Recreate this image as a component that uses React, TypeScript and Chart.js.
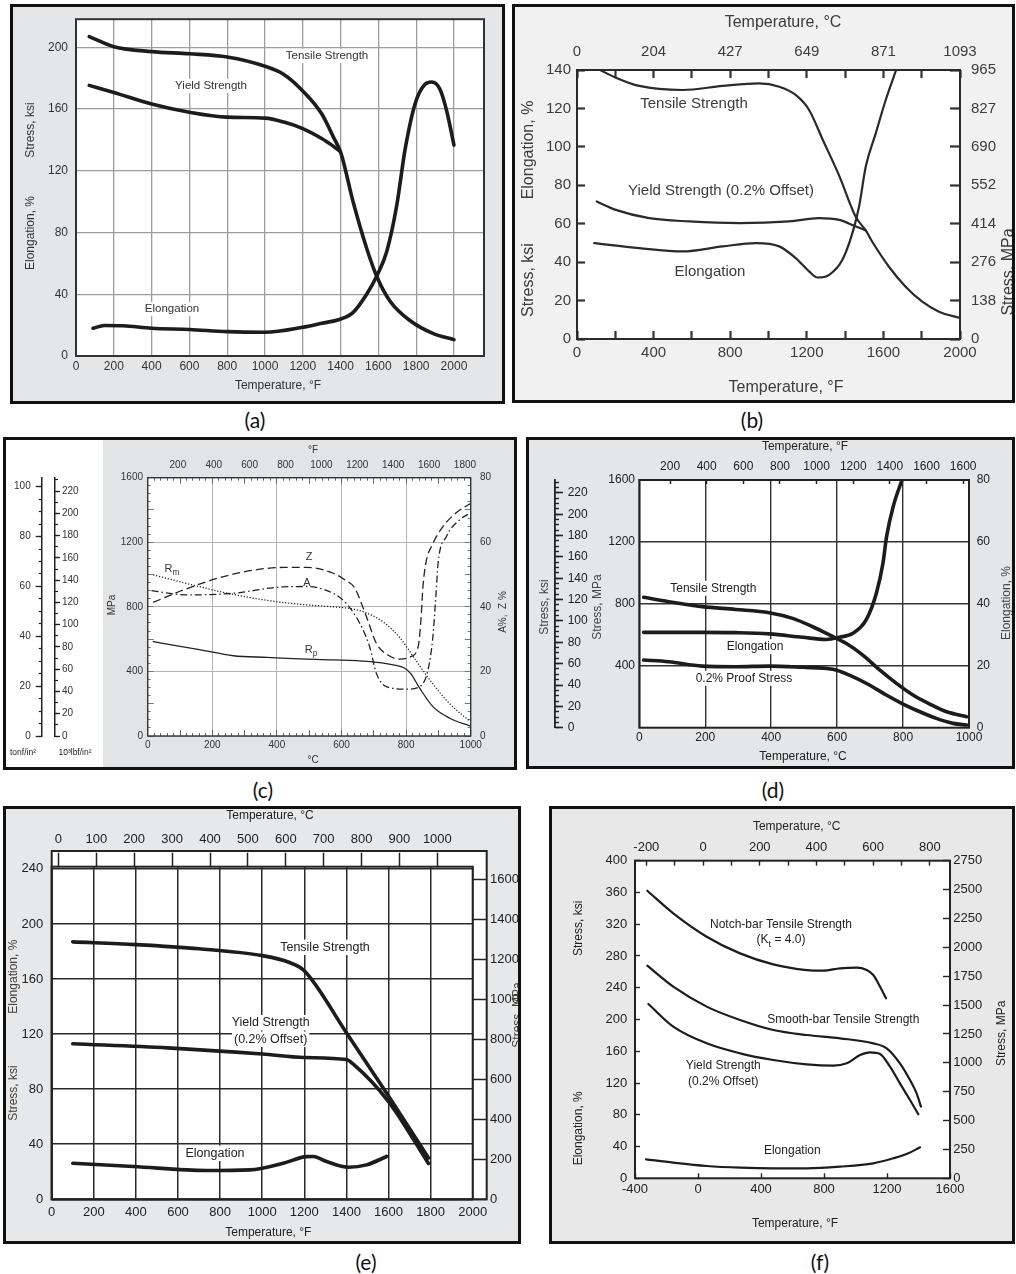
import React, { useEffect, useRef } from 'react';
import { Chart, registerables } from 'chart.js';

Chart.register(...registerables);

const FONT = '"Liberation Sans", Arial, Helvetica, sans-serif';

// ---------------- (a) ----------------
const aTempTicks = [0, 200, 400, 600, 800, 1000, 1200, 1400, 1600, 1800, 2000];
const aStressTicks = [0, 40, 80, 120, 160, 200];
const aTensileF = [70, 200, 400, 600, 800, 1000, 1100, 1200, 1300, 1361, 1402, 1467, 1538, 1591, 1661, 1767, 1891, 2000];
const aTensileKsi = [207, 200.5, 197.3, 195.9, 193.8, 187.8, 182.5, 171.8, 157, 142.2, 131.5, 99.6, 69.8, 51.7, 35.7, 23, 14.5, 10.6];
const aYieldF = [70, 200, 400, 600, 800, 1000, 1100, 1200, 1300, 1350, 1395];
const aYieldKsi = [175.4, 170.8, 163.3, 158, 154.8, 154.2, 151.6, 147.4, 141, 137, 133];
const aElongF = [90, 150, 250, 400, 600, 800, 1000, 1200, 1300, 1402, 1467, 1538, 1591, 1644, 1697, 1741, 1794, 1847, 1882, 1926, 1961, 2000];
const aElongPct = [18, 19.8, 19.6, 18, 17.2, 15.8, 15.4, 18.6, 21.2, 24, 28.3, 40, 51.7, 67.6, 97.4, 133.6, 163.4, 176.1, 177.6, 172.9, 159.1, 136.7];

// ---------------- (b) ----------------
const bTempTicks = [0, 200, 400, 600, 800, 1000, 1200, 1400, 1600, 1800, 2000];
const bTempLabels = ['0', '', '400', '', '800', '', '1200', '', '1600', '', '2000'];
const bCelsiusLabels = ['0', '', '204', '', '427', '', '649', '', '871', '', '1093'];
const bKsiTicks = [0, 20, 40, 60, 80, 100, 120, 140];
const bMpaTicks = [0, 138, 276, 414, 552, 690, 827, 965];
const bTensileF = [100, 203, 325, 551, 760, 951, 1056, 1142, 1212, 1282, 1369, 1456, 1508, 1542, 1629, 1716, 1803, 1890, 2000];
const bTensileKsi = [141, 136, 131.7, 129.6, 131.7, 133, 131.3, 127, 119.2, 104, 85, 63.5, 56.5, 50.6, 37.6, 27.2, 19.4, 14.2, 10.9];
const bYieldF = [103, 203, 377, 586, 847, 1108, 1264, 1369, 1456, 1508];
const bYieldKsi = [71.6, 67.2, 62.9, 61.2, 60.3, 61.2, 62.9, 62, 58.6, 56.5];
const bElongF = [90, 325, 551, 760, 934, 1056, 1142, 1212, 1256, 1317, 1386, 1438, 1473, 1508, 1560, 1612, 1670];
const bElongPct = [49.9, 47.3, 45.6, 48.2, 49.9, 48.2, 42.1, 35.2, 32, 33.4, 41.2, 55.1, 69, 89.8, 107, 124.4, 141];

// ---------------- (c) ----------------
const cCelsiusTicks = [0, 200, 400, 600, 800, 1000];
const cFahrTicks = [200, 400, 600, 800, 1000, 1200, 1400, 1600, 1800];
const cMpaTicks = [0, 400, 800, 1200, 1600];
const cPctTicks = [0, 20, 40, 60, 80];
const cTonfTicks = [0, 20, 40, 60, 80, 100];
const cKsiTicks = [0, 20, 40, 60, 80, 100, 120, 140, 160, 180, 200, 220];
const cRmC = [17, 150, 245, 370, 475, 575, 640, 680, 730, 780, 830, 880, 935, 998];
const cRmMpa = [998, 930, 885, 840, 815, 800, 785, 760, 705, 610, 470, 330, 200, 90];
const cRpC = [17, 160, 265, 370, 470, 575, 680, 760, 796, 815, 842, 883, 935, 998];
const cRpMpa = [584, 535, 497, 487, 478, 472, 462, 440, 420, 385, 296, 182, 110, 62];
const cZC = [17, 110, 214, 317, 420, 492, 575, 616, 640, 677, 708, 745, 780, 815, 838, 846, 852, 862, 880, 915, 960, 1000];
const cZPct = [41.4, 45.2, 48.8, 51.2, 52.2, 52.2, 50.4, 48, 46, 37, 28.7, 25, 23.8, 24.6, 28, 36, 46, 54, 59, 65, 69.5, 72];
const cAC = [12, 121, 265, 420, 492, 574, 615, 656, 687, 708, 739, 801, 842, 868, 883, 892, 899, 925, 966, 998];
const cAPct = [45, 43.7, 44.2, 46.2, 46.3, 44.2, 41, 35, 27.7, 19.4, 15.3, 14.5, 15.3, 20.5, 30.8, 43, 53.5, 61.8, 67, 69];

// ---------------- (d) ----------------
const dCelsiusTicks = [0, 200, 400, 600, 800, 1000];
const dFahrTicks = [200, 400, 600, 800, 1000, 1200, 1400, 1600, 1800];
const dFahrLabels = ['200', '400', '600', '800', '1000', '1200', '1400', '1600', '1600'];
const dMpaTicks = [400, 800, 1200, 1600];
const dPctTicks = [0, 20, 40, 60, 80];
const dKsiTicks = [0, 20, 40, 60, 80, 100, 120, 140, 160, 180, 200, 220];
const dTensileC = [13, 89, 191, 292, 394, 465, 526, 577, 627, 678, 729, 780, 830, 881, 932, 993];
const dTensileMpa = [842, 814, 782, 764, 743, 706, 652, 599, 545, 469, 373, 286, 211, 153, 103, 71];
const dProofC = [13, 89, 191, 292, 394, 495, 587, 637, 698, 749, 800, 851, 901, 952, 993];
const dProofMpa = [437, 426, 398, 394, 398, 390, 377, 340, 276, 211, 153, 103, 60, 28, 17];
const dElongC = [13, 89, 191, 292, 394, 495, 566, 607, 648, 688, 719, 739, 750, 770, 800];
const dElongPct = [30.8, 30.8, 30.8, 30.7, 30.3, 29.2, 28.5, 29.2, 30.5, 34.8, 43.4, 53.1, 61.7, 71.4, 81];

// ---------------- (e) ----------------
const eTempTicks = [0, 200, 400, 600, 800, 1000, 1200, 1400, 1600, 1800, 2000];
const eCelsiusTicks = [0, 100, 200, 300, 400, 500, 600, 700, 800, 900, 1000];
const eKsiTicks = [0, 40, 80, 120, 160, 200, 240];
const eMpaTicks = [0, 200, 400, 600, 800, 1000, 1200, 1400, 1600];
const eTensileF = [100, 400, 700, 1000, 1130, 1200, 1400, 1600, 1790];
const eTensileKsi = [187, 185, 182, 177, 172, 166, 121, 75, 30];
const eYieldF = [100, 550, 1000, 1200, 1400, 1430, 1600, 1790];
const eYieldKsi = [113, 110, 105.5, 103, 101.5, 98.5, 71, 26];
const eElongF = [100, 388, 736, 942, 1100, 1211, 1243, 1306, 1409, 1496, 1591];
const eElongPct = [26.2, 23.8, 20.9, 21.4, 26.2, 31, 31.1, 27.4, 23.3, 25, 31.1];

// ---------------- (f) ----------------
const fTempTicks = [-400, 0, 400, 800, 1200, 1600];
const fCelsiusTicks = [-200, -100, 0, 100, 200, 300, 400, 500, 600, 700, 800];
const fCelsiusLabels = ['-200', '', '0', '', '200', '', '400', '', '600', '', '800'];
const fKsiTicks = [0, 40, 80, 120, 160, 200, 240, 280, 320, 360, 400];
const fMpaTicks = [0, 250, 500, 750, 1000, 1250, 1500, 1750, 2000, 2250, 2500, 2750];
const fNotchF = [-322, -157, 55, 267, 478, 690, 796, 902, 1007, 1071, 1113, 1156, 1194];
const fNotchKsi = [362.2, 333.7, 304.3, 283.3, 269.5, 262.3, 261.5, 264.4, 265.3, 262.3, 256, 241.3, 226.7];
const fSmoothF = [-322, -157, 55, 267, 478, 690, 902, 1113, 1198, 1282, 1346, 1388, 1416];
const fSmoothKsi = [267.8, 241.3, 216.2, 199.4, 186.8, 180.5, 176.3, 170, 163.7, 144.8, 123.8, 107, 90.2];
const fYieldF = [-315, -157, 55, 267, 478, 690, 859, 944, 1029, 1092, 1156, 1219, 1282, 1346, 1399];
const fYieldKsi = [219.5, 191, 170, 157.4, 149, 143.5, 141.9, 144.8, 155.3, 158.7, 156.6, 140.6, 119.6, 98.6, 80.6];
const fElongF = [-330, -157, 55, 267, 478, 690, 902, 1113, 1240, 1325, 1410];
const fElongPct = [23.9, 19.7, 15.5, 13.4, 12.6, 12.6, 14.7, 18.9, 25.2, 30.6, 39];

// ---------------- helpers ----------------
const str = (a: number[]) => a.map(String);
function range(a: number, b: number, s: number) {
  const r: number[] = [];
  for (let v = a; v <= b + 1e-9; v += s) r.push(Math.round(v * 1000) / 1000);
  return r;
}

type AxO = {
  pos: string; min: number; max: number; ticks: number[]; labels?: string[];
  tl?: number; tc?: string; tw?: number; grid?: boolean; gc?: string; gw?: number;
  border?: boolean; bc?: string; bw?: number; size?: number; color?: string; pad?: number;
};
function ax(o: AxO) {
  const horiz = o.pos === 'top' || o.pos === 'bottom';
  return {
    _lab: !!o.labels,
    type: 'linear', position: o.pos, axis: horiz ? 'x' : 'y', min: o.min, max: o.max,
    bounds: 'data', grace: 0, offset: false, weight: o.labels ? 1 : 0,
    afterBuildTicks: (s: any) => { s.ticks = o.ticks.map((v) => ({ value: v })); },
    afterFit: (s: any) => { if (horiz) s.height = 0; else s.width = 0; },
    ticks: {
      display: true, autoSkip: false, maxRotation: 0, minRotation: 0, padding: o.pad ?? 3,
      color: o.color ?? '#222', font: { family: FONT, size: o.size ?? 12 },
      callback: (_v: any, i: number) => (o.labels ? o.labels[i] ?? '' : ''),
    },
    grid: {
      display: true, drawOnChartArea: !!o.grid, drawTicks: !!o.tl, tickLength: o.tl ?? 0,
      tickColor: o.tc ?? '#222', tickWidth: o.tw ?? 1, color: o.gc ?? '#999', lineWidth: o.gw ?? 1,
    },
    border: { display: !!o.border, color: o.bc ?? '#222', width: o.bw ?? 1 },
  };
}
const hiddenX = { type: 'linear', display: false, min: 0, max: 1 };

type Txt = { x: number; y: number; t: string; s: number; r?: number; bg?: string; c?: string };
type Ser = { xs: number[]; ys: number[]; xa?: string; ya?: string; w: number; c: string; dash?: number[]; cap?: string };
type Spec = {
  box: number[]; plot: number[]; scales: Record<string, any>; series: Ser[]; texts: Txt[];
  frame?: { c: string; w: number }; outer?: number[]; plotBg?: string; tc?: string;
};

function parts(t: string) {
  const out: { t: string; sub: boolean; w?: number }[] = [];
  const re = /_\{([^}]*)\}/g;
  let last = 0;
  let m: RegExpExecArray | null;
  while ((m = re.exec(t))) {
    if (m.index > last) out.push({ t: t.slice(last, m.index), sub: false });
    out.push({ t: m[1], sub: true });
    last = re.lastIndex;
  }
  if (last < t.length) out.push({ t: t.slice(last), sub: false });
  return out;
}

function drawTxt(ctx: CanvasRenderingContext2D, it: Txt, ox: number, oy: number, col: string) {
  ctx.save();
  ctx.translate(it.x - ox, it.y - oy);
  if (it.r) ctx.rotate((it.r * Math.PI) / 180);
  const ps = parts(it.t);
  let w = 0;
  for (const p of ps) {
    ctx.font = `${p.sub ? it.s * 0.75 : it.s}px ${FONT}`;
    p.w = ctx.measureText(p.t).width;
    w += p.w;
  }
  if (it.bg) {
    ctx.fillStyle = it.bg;
    ctx.fillRect(-w / 2 - 2, -it.s * 0.62, w + 4, it.s * 1.24);
  }
  ctx.fillStyle = it.c ?? col;
  ctx.textBaseline = 'middle';
  ctx.textAlign = 'left';
  let x = -w / 2;
  for (const p of ps) {
    ctx.font = `${p.sub ? it.s * 0.75 : it.s}px ${FONT}`;
    ctx.fillText(p.t, x, p.sub ? it.s * 0.35 : 0);
    x += p.w as number;
  }
  ctx.restore();
}

function makeConfig(sp: Spec): any {
  const [x0, y0, x1, y1] = sp.box;
  const [l, t, r, b] = sp.plot;
  const sides: Record<string, number> = { left: l - x0, top: t - y0, right: x1 - r, bottom: y1 - b };
  const pad: Record<string, number> = { ...sides };
  const scales: Record<string, any> = {};
  for (const k of Object.keys(sp.scales)) {
    const s = sp.scales[k];
    if (s && s._lab) {
      const pos = s.position as string;
      const d = sides[pos];
      pad[pos] = 0;
      const { _lab, ...rest } = s;
      scales[k] = {
        ...rest,
        afterFit: (sc: any) => { if (pos === 'top' || pos === 'bottom') sc.height = d; else sc.width = d; },
      };
    } else if (s && '_lab' in s) {
      const { _lab, ...rest } = s;
      scales[k] = rest;
    } else scales[k] = s;
  }
  const deco = {
    id: 'deco',
    beforeDraw(chart: any) {
      if (!sp.plotBg) return;
      const ca = chart.chartArea;
      const o = sp.outer || [0, 0, 0, 0];
      const ctx = chart.ctx;
      ctx.save();
      ctx.fillStyle = sp.plotBg;
      ctx.fillRect(ca.left - o[0], ca.top - o[1], ca.right - ca.left + o[0] + o[2], ca.bottom - ca.top + o[1] + o[3]);
      ctx.restore();
    },
    beforeDatasetsDraw(chart: any) {
      for (const it of sp.texts) drawTxt(chart.ctx, it, x0, y0, sp.tc ?? '#222');
    },
    afterDatasetsDraw(chart: any) {
      const ca = chart.chartArea;
      const ctx = chart.ctx;
      if (sp.frame) {
        ctx.save();
        ctx.strokeStyle = sp.frame.c;
        ctx.lineWidth = sp.frame.w;
        ctx.strokeRect(ca.left, ca.top, ca.right - ca.left, ca.bottom - ca.top);
        if (sp.outer) {
          const o = sp.outer;
          ctx.strokeRect(ca.left - o[0], ca.top - o[1], ca.right - ca.left + o[0] + o[2], ca.bottom - ca.top + o[1] + o[3]);
        }
        ctx.restore();
      }
    },
  };
  return {
    type: 'line',
    data: {
      datasets: sp.series.map((s) => ({
        data: s.xs.map((x, i) => ({ x, y: s.ys[i] })),
        xAxisID: s.xa ?? 'x', yAxisID: s.ya ?? 'y',
        borderColor: s.c, borderWidth: s.w, borderDash: s.dash ?? [],
        borderCapStyle: s.cap ?? 'round', borderJoinStyle: 'round',
        pointRadius: 0, fill: false, cubicInterpolationMode: 'monotone',
      })),
    },
    options: {
      responsive: false, maintainAspectRatio: false, animation: false, devicePixelRatio: 1, events: [],
      layout: { autoPadding: false, padding: { left: pad.left, top: pad.top, right: pad.right, bottom: pad.bottom } },
      scales,
      plugins: { legend: { display: false }, tooltip: { enabled: false } },
    },
    plugins: [deco],
  };
}

function ChartBox({ spec }: { spec: Spec }) {
  const ref = useRef<HTMLCanvasElement>(null);
  useEffect(() => {
    const c = new Chart(ref.current as HTMLCanvasElement, makeConfig(spec));
    return () => c.destroy();
  }, []);
  const [x0, y0, x1, y1] = spec.box;
  return (
    <canvas ref={ref} width={x1 - x0} height={y1 - y0}
      style={{ position: 'absolute', left: x0, top: y0, width: x1 - x0, height: y1 - y0 }} />
  );
}

// ---------------- panel specs ----------------
const LINE = '#1c1c1c';

const specA: Spec = {
  box: [10, 4, 505, 404], plot: [76, 14, 484, 356], plotBg: '#fff', frame: { c: '#333', w: 2 }, tc: '#333',
  scales: {
    x: ax({ pos: 'bottom', min: 0, max: 2159, ticks: aTempTicks, labels: str(aTempTicks), grid: true, gc: '#9d9d9d', gw: 1.3, size: 12, color: '#333', pad: 3 }),
    y: ax({ pos: 'left', min: 0, max: 218.3, ticks: aStressTicks, labels: str(aStressTicks), grid: true, gc: '#9d9d9d', gw: 1.3, size: 12, color: '#333', pad: 8 }),
  },
  series: [
    { xs: aTensileF, ys: aTensileKsi, w: 3.6, c: LINE },
    { xs: aYieldF, ys: aYieldKsi, w: 3.6, c: LINE },
    { xs: aElongF, ys: aElongPct, w: 3.6, c: LINE },
  ],
  texts: [
    { x: 278, y: 386, t: 'Temperature, °F', s: 12 },
    { x: 31, y: 130, t: 'Stress, ksi', s: 12, r: -90 },
    { x: 31, y: 233, t: 'Elongation, %', s: 12, r: -90 },
    { x: 327, y: 56, t: 'Tensile Strength', s: 11.5, bg: '#fff' },
    { x: 211, y: 86, t: 'Yield Strength', s: 11.5, bg: '#fff' },
    { x: 172, y: 309, t: 'Elongation', s: 11.5, bg: '#fff' },
  ],
};

const specB: Spec = {
  box: [512, 4, 1015, 403], plot: [577, 70, 960, 339], plotBg: '#fff', frame: { c: '#2a2a2a', w: 2 }, tc: '#3c3c3c',
  scales: {
    x: ax({ pos: 'bottom', min: 0, max: 2000, ticks: bTempTicks, labels: bTempLabels, tl: -8, tw: 2.2, tc: '#333', size: 15, color: '#3c3c3c', pad: 13 }),
    x2: ax({ pos: 'top', min: 0, max: 2000, ticks: bTempTicks, labels: bCelsiusLabels, tl: -8, tw: 2.2, tc: '#333', size: 15, color: '#3c3c3c', pad: 17 }),
    y: ax({ pos: 'left', min: 0, max: 140, ticks: bKsiTicks, labels: str(bKsiTicks), tl: -8, tw: 2.2, tc: '#333', size: 15, color: '#3c3c3c', pad: 14 }),
    y2: ax({ pos: 'right', min: 0, max: 965.3, ticks: bMpaTicks, labels: str(bMpaTicks), tl: -10, tw: 2.2, tc: '#333', size: 15, color: '#3c3c3c', pad: 21 }),
  },
  series: [
    { xs: bTensileF, ys: bTensileKsi, w: 2.2, c: '#2a2a2a' },
    { xs: bYieldF, ys: bYieldKsi, w: 2.2, c: '#2a2a2a' },
    { xs: bElongF, ys: bElongPct, w: 2.2, c: '#2a2a2a' },
  ],
  texts: [
    { x: 783, y: 23, t: 'Temperature, °C', s: 16 },
    { x: 786, y: 388, t: 'Temperature, °F', s: 16 },
    { x: 529, y: 280, t: 'Stress, ksi', s: 16, r: -90 },
    { x: 529, y: 150, t: 'Elongation, %', s: 16, r: -90 },
    { x: 1009, y: 272, t: 'Stress, MPa', s: 16, r: -90 },
    { x: 694, y: 104, t: 'Tensile Strength', s: 15 },
    { x: 721, y: 191, t: 'Yield Strength (0.2% Offset)', s: 15 },
    { x: 710, y: 272, t: 'Elongation', s: 15 },
  ],
};

const specC: Spec = {
  box: [103, 440, 514, 767], plot: [147.7, 477.7, 470.7, 736], plotBg: '#fff', frame: { c: '#333', w: 1.4 }, tc: '#333',
  scales: {
    x: ax({ pos: 'bottom', min: 0, max: 1000, ticks: cCelsiusTicks, labels: str(cCelsiusTicks), grid: true, gc: '#b4b4b4', gw: 1, size: 10, color: '#333', pad: 3.4 }),
    xbm: ax({ pos: 'bottom', min: 0, max: 1000, ticks: range(0, 1000, 20), tl: -3, tc: '#666' }),
    xbM: ax({ pos: 'bottom', min: 0, max: 1000, ticks: range(0, 1000, 100), tl: -6, tc: '#666' }),
    xt: ax({ pos: 'top', min: 32, max: 1832, ticks: cFahrTicks, labels: str(cFahrTicks), size: 10, color: '#333', pad: 6 }),
    xtm: ax({ pos: 'top', min: 0, max: 1000, ticks: range(0, 1000, 20), tl: -3, tc: '#666' }),
    xtM: ax({ pos: 'top', min: 0, max: 1000, ticks: range(0, 1000, 100), tl: -6, tc: '#666' }),
    y: ax({ pos: 'left', min: 0, max: 1600, ticks: cMpaTicks, labels: str(cMpaTicks), grid: true, gc: '#b4b4b4', gw: 1, size: 10, color: '#333', pad: 4.7 }),
    ylm: ax({ pos: 'left', min: 0, max: 1600, ticks: range(0, 1600, 50), tl: -3, tc: '#777' }),
    ylM: ax({ pos: 'left', min: 0, max: 1600, ticks: range(0, 1600, 200), tl: -6, tc: '#777' }),
    y2: ax({ pos: 'right', min: 0, max: 80, ticks: cPctTicks, labels: str(cPctTicks), size: 10, color: '#333', pad: 9.3 }),
    yrm: ax({ pos: 'right', min: 0, max: 1600, ticks: range(0, 1600, 50), tl: -3, tc: '#777' }),
    yrM: ax({ pos: 'right', min: 0, max: 1600, ticks: range(0, 1600, 200), tl: -6, tc: '#777' }),
  },
  series: [
    { xs: cRmC, ys: cRmMpa, w: 1.3, c: '#222', dash: [1.2, 1.8], cap: 'butt' },
    { xs: cRpC, ys: cRpMpa, w: 1.3, c: '#222' },
    { xs: cZC, ys: cZPct, ya: 'y2', w: 1.3, c: '#222', dash: [8, 4], cap: 'butt' },
    { xs: cAC, ys: cAPct, ya: 'y2', w: 1.3, c: '#222', dash: [7, 3, 1.5, 3], cap: 'butt' },
  ],
  texts: [
    { x: 313, y: 450, t: '°F', s: 10 },
    { x: 313, y: 760, t: '°C', s: 10 },
    { x: 112, y: 605, t: 'MPa', s: 10, r: -90 },
    { x: 503, y: 612, t: 'A%,  Z %', s: 10, r: -90 },
    { x: 172, y: 569, t: 'R_{m}', s: 11 },
    { x: 309, y: 557, t: 'Z', s: 11 },
    { x: 307, y: 583, t: 'A', s: 11 },
    { x: 311, y: 650, t: 'R_{p}', s: 11 },
  ],
};

const specCL: Spec = {
  box: [4, 440, 103, 767], plot: [41.7, 477.7, 55, 736], tc: '#222',
  scales: {
    x: hiddenX,
    yt: ax({ pos: 'left', min: 0, max: 103.6, ticks: cTonfTicks, labels: str(cTonfTicks), tl: 6, tw: 1.3, border: true, bw: 1.5, size: 10, color: '#333', pad: 5 }),
    ytm: ax({ pos: 'left', min: 0, max: 103.6, ticks: range(0, 100, 5), tl: 3, tw: 1.2 }),
    yk: ax({ pos: 'right', min: 0, max: 232.06, ticks: cKsiTicks, labels: str(cKsiTicks), tl: 5, tw: 1.3, border: true, bw: 1.5, size: 10, color: '#333', pad: 2 }),
    ykm: ax({ pos: 'right', min: 0, max: 232.06, ticks: range(0, 230, 10), tl: 3, tw: 1.2 }),
  },
  series: [],
  texts: [
    { x: 23, y: 753, t: 'tonf/in²', s: 8.5 },
    { x: 75, y: 753, t: '10³lbf/in²', s: 8.5 },
  ],
};

const specD: Spec = {
  box: [529, 440, 1013, 766], plot: [639.3, 480, 969, 727.7], plotBg: '#fff', frame: { c: '#222', w: 2 }, tc: '#222',
  scales: {
    x: ax({ pos: 'bottom', min: 0, max: 1000, ticks: dCelsiusTicks, labels: str(dCelsiusTicks), grid: true, gc: '#333', gw: 1.4, size: 12, color: '#222', pad: 3.1 }),
    xt: ax({ pos: 'top', min: 32, max: 1832, ticks: dFahrTicks, labels: dFahrLabels, tl: -4, tw: 1.5, size: 12, color: '#222', pad: 9.8 }),
    y: ax({ pos: 'left', min: 0, max: 1600, ticks: dMpaTicks, labels: str(dMpaTicks), grid: true, gc: '#333', gw: 1.4, size: 12, color: '#222', pad: 4.3 }),
    y2: ax({ pos: 'right', min: 0, max: 80, ticks: dPctTicks, labels: str(dPctTicks), size: 12, color: '#222', pad: 7.7 }),
  },
  series: [
    { xs: dTensileC, ys: dTensileMpa, w: 3.6, c: LINE },
    { xs: dProofC, ys: dProofMpa, w: 3.6, c: LINE },
    { xs: dElongC, ys: dElongPct, ya: 'y2', w: 3.6, c: LINE },
  ],
  texts: [
    { x: 805, y: 447, t: 'Temperature, °F', s: 12 },
    { x: 803, y: 757, t: 'Temperature, °C', s: 12 },
    { x: 1006.7, y: 603, t: 'Elongation, %', s: 12, r: -90, c: '#444' },
    { x: 544.3, y: 607, t: 'Stress, ksi', s: 12, r: -90, c: '#444' },
    { x: 597.7, y: 607, t: 'Stress, MPa', s: 12, r: -90, c: '#444' },
    { x: 713.3, y: 588.3, t: 'Tensile Strength', s: 12, bg: '#fff' },
    { x: 755, y: 646.7, t: 'Elongation', s: 12, bg: '#fff' },
    { x: 744, y: 678.3, t: '0.2% Proof Stress', s: 12, bg: '#fff' },
  ],
};

const specDL: Spec = {
  box: [529, 440, 640, 766], plot: [550, 480, 555, 727.7], tc: '#222',
  scales: {
    x: hiddenX,
    yk: ax({ pos: 'right', min: 0, max: 232.06, ticks: dKsiTicks, labels: str(dKsiTicks), tl: 8, tw: 1.6, border: true, bw: 1.8, size: 12, color: '#222', pad: 4.7 }),
    ykm: ax({ pos: 'right', min: 0, max: 232.06, ticks: range(0, 230, 5), tl: 4, tw: 1.4 }),
  },
  series: [],
  texts: [],
};

const specE: Spec = {
  box: [6, 809, 518, 1241], plot: [51.7, 866.7, 472.7, 1199.3], plotBg: '#fff', frame: { c: '#222', w: 2 },
  outer: [0, 15.7, 14, 0], tc: '#222',
  scales: {
    x: ax({ pos: 'bottom', min: 0, max: 2000, ticks: eTempTicks, labels: str(eTempTicks), grid: true, gc: '#2a2a2a', gw: 1.5, size: 13, color: '#222', pad: 5 }),
    xt: ax({ pos: 'top', min: -17.78, max: 1093.3, ticks: eCelsiusTicks, labels: str(eCelsiusTicks), tl: 14, tw: 1.5, size: 13, color: '#222', pad: 5.6 }),
    y: ax({ pos: 'left', min: 0, max: 241.6, ticks: eKsiTicks, labels: str(eKsiTicks), grid: true, gc: '#2a2a2a', gw: 1.5, size: 13, color: '#222', pad: 8.4 }),
    y2: ax({ pos: 'right', min: 0, max: 1665.9, ticks: eMpaTicks, labels: str(eMpaTicks), tl: 14, tw: 1.5, size: 13, color: '#222', pad: 3.3 }),
  },
  series: [
    { xs: eTensileF, ys: eTensileKsi, w: 3.6, c: LINE },
    { xs: eYieldF, ys: eYieldKsi, w: 3.6, c: LINE },
    { xs: eElongF, ys: eElongPct, w: 3.6, c: LINE },
  ],
  texts: [
    { x: 270, y: 816, t: 'Temperature, °C', s: 12 },
    { x: 268.3, y: 1232.3, t: 'Temperature, °F', s: 12 },
    { x: 13.3, y: 976.7, t: 'Elongation, %', s: 12, r: -90, c: '#4a4036' },
    { x: 13.3, y: 1093, t: 'Stress, ksi', s: 12, r: -90, c: '#4a4036' },
    { x: 518, y: 1015, t: 'Stress, MPa', s: 12, r: -90, c: '#4a4036' },
    { x: 325, y: 947.3, t: 'Tensile Strength', s: 12.5, bg: '#fff' },
    { x: 270.7, y: 1022.7, t: 'Yield Strength', s: 12.5, bg: '#fff' },
    { x: 270.7, y: 1039.3, t: '(0.2% Offset)', s: 12.5, bg: '#fff' },
    { x: 215, y: 1153.3, t: 'Elongation', s: 12.5, bg: '#fff' },
  ],
};

const specF: Spec = {
  box: [552, 809, 1012, 1241], plot: [635, 860.7, 950, 1178.3], plotBg: '#fff', frame: { c: '#222', w: 2 }, tc: '#222',
  scales: {
    x: ax({ pos: 'bottom', min: -400, max: 1600, ticks: fTempTicks, labels: str(fTempTicks), tl: -5, tw: 1.4, size: 13, color: '#222', pad: 8.8 }),
    xt: ax({ pos: 'top', min: -240, max: 871.1, ticks: fCelsiusTicks, labels: fCelsiusLabels, tl: -5, tw: 1.4, size: 13, color: '#222', pad: 10.2 }),
    y: ax({ pos: 'left', min: 0, max: 400, ticks: fKsiTicks, labels: str(fKsiTicks), tl: -5, tw: 1.4, size: 13, color: '#222', pad: 12.7 }),
    y2: ax({ pos: 'right', min: 0, max: 2750, ticks: fMpaTicks, labels: str(fMpaTicks), tl: -7, tw: 1.4, size: 13, color: '#222', pad: 10.3 }),
  },
  series: [
    { xs: fNotchF, ys: fNotchKsi, w: 2.2, c: LINE },
    { xs: fSmoothF, ys: fSmoothKsi, w: 2.2, c: LINE },
    { xs: fYieldF, ys: fYieldKsi, w: 2.2, c: LINE },
    { xs: fElongF, ys: fElongPct, w: 2.2, c: LINE },
  ],
  texts: [
    { x: 796.7, y: 826.7, t: 'Temperature, °C', s: 12 },
    { x: 795, y: 1223.3, t: 'Temperature, °F', s: 12 },
    { x: 578.3, y: 928.3, t: 'Stress, ksi', s: 12, r: -90 },
    { x: 578.3, y: 1128.3, t: 'Elongation, %', s: 12, r: -90 },
    { x: 1001.7, y: 1033.3, t: 'Stress, MPa', s: 12, r: -90 },
    { x: 781, y: 925, t: 'Notch-bar Tensile Strength', s: 12 },
    { x: 781, y: 940, t: '(K_{t} = 4.0)', s: 12 },
    { x: 843.3, y: 1020, t: 'Smooth-bar Tensile Strength', s: 12 },
    { x: 723.3, y: 1065.7, t: 'Yield Strength', s: 12 },
    { x: 723.3, y: 1081.7, t: '(0.2% Offset)', s: 12 },
    { x: 792.3, y: 1151, t: 'Elongation', s: 12 },
  ],
};

// ---------------- layout ----------------
type Box = { l: number; t: number; w: number; h: number; bg: string };
const boxes: Box[] = [
  { l: 10, t: 4, w: 495, h: 400, bg: '#e4e6e8' },
  { l: 512, t: 4, w: 503, h: 399, bg: '#f1f1f1' },
  { l: 3, t: 437, w: 514, h: 333, bg: '#ffffff' },
  { l: 526, t: 437, w: 489, h: 332, bg: '#e5e6e7' },
  { l: 3, t: 806, w: 518, h: 438, bg: '#e7e8ea' },
  { l: 549, t: 806, w: 466, h: 438, bg: '#e8e8e8' },
];
const captions = [
  { t: '(a)', x: 255, y: 420 },
  { t: '(b)', x: 752, y: 420 },
  { t: '(c)', x: 263, y: 790 },
  { t: '(d)', x: 773, y: 790 },
  { t: '(e)', x: 366, y: 1262 },
  { t: '(f)', x: 820, y: 1262 },
];

export default function App() {
  return (
    <div style={{ position: 'absolute', left: 0, top: 0, width: 1016, height: 1274, background: '#fff', overflow: 'hidden' }}>
      {boxes.map((b, i) => (
        <div key={'bg' + i} style={{ position: 'absolute', left: b.l, top: b.t, width: b.w, height: b.h, background: b.bg }} />
      ))}
      <div style={{ position: 'absolute', left: 103, top: 440, width: 411, height: 327, background: '#e3e4e6' }} />
      <ChartBox spec={specA} />
      <ChartBox spec={specB} />
      <ChartBox spec={specC} />
      <ChartBox spec={specCL} />
      <ChartBox spec={specD} />
      <ChartBox spec={specDL} />
      <ChartBox spec={specE} />
      <ChartBox spec={specF} />
      {boxes.map((b, i) => (
        <div key={'bd' + i} style={{ position: 'absolute', left: b.l, top: b.t, width: b.w, height: b.h, border: '3px solid #111', boxSizing: 'border-box', pointerEvents: 'none' }} />
      ))}
      {captions.map((c) => (
        <div key={c.t} style={{ position: 'absolute', left: c.x - 40, top: c.y - 13, width: 80, height: 26, lineHeight: '26px', textAlign: 'center', fontFamily: 'Lato, "Open Sans", sans-serif', fontSize: 21, color: '#111' }}>{c.t}</div>
      ))}
    </div>
  );
}
